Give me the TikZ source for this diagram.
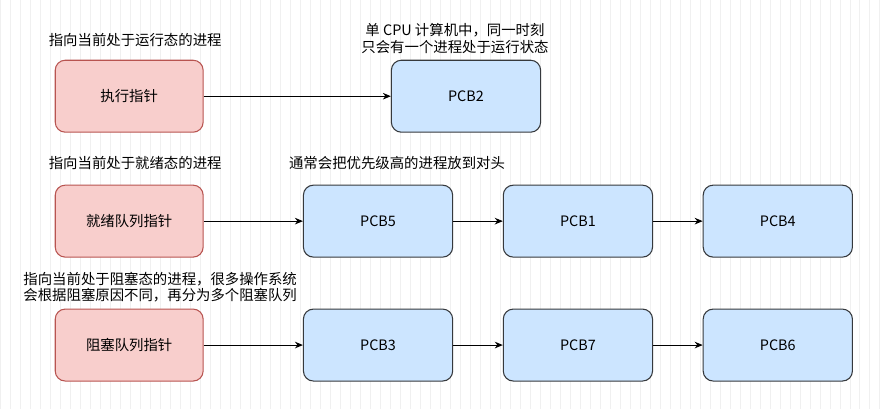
\documentclass[tikz,border=0pt]{standalone}
\usepackage{fontspec}
\setmainfont{Noto Sans CJK SC}
\usepackage{tikz}
\usetikzlibrary{arrows.meta}
\definecolor{redfill}{HTML}{F8CECC}
\definecolor{reddraw}{HTML}{B85450}
\definecolor{bluefill}{HTML}{CCE5FF}
\definecolor{bluedraw}{HTML}{36393D}

\begin{document}
\begin{tikzpicture}[x=0.75pt,y=-0.75pt,font=\fontsize{10.8}{12.5}\selectfont,
  ptr node/.style={draw=reddraw,fill=redfill,rounded corners=7.5pt,minimum width=111pt,minimum height=54pt,thick},
  pcb node/.style={draw=bluedraw,fill=bluefill,rounded corners=7.5pt,minimum width=112pt,minimum height=54pt,thick},
  link/.style={-{Stealth[length=6pt,width=5pt]},thick},
  note/.style={align=center,inner sep=0pt}]
\fill[white] (0,0) rectangle (884,409);
\draw[black!6,line width=0.4pt] (0,0) grid[step=10] (884,409);
\useasboundingbox (0,0) rectangle (884,409);

\node[ptr node] (run) at (129,96) {执行指针};
\node[pcb node] (pcb2) at (466,96) {PCB2};
\node[ptr node] (ready) at (129,221) {就绪队列指针};
\node[pcb node] (pcb5) at (378,221) {PCB5};
\node[pcb node] (pcb1) at (578,221) {PCB1};
\node[pcb node] (pcb4) at (778,221) {PCB4};
\node[ptr node] (block) at (129,345) {阻塞队列指针};
\node[pcb node] (pcb3) at (378,345) {PCB3};
\node[pcb node] (pcb7) at (578,345) {PCB7};
\node[pcb node] (pcb6) at (778,345) {PCB6};

\draw[link] (run) -- (pcb2);
\draw[link] (ready) -- (pcb5);
\draw[link] (pcb5) -- (pcb1);
\draw[link] (pcb1) -- (pcb4);
\draw[link] (block) -- (pcb3);
\draw[link] (pcb3) -- (pcb7);
\draw[link] (pcb7) -- (pcb6);

\node[note] (runtxt) at (135,40) {指向当前处于运行态的进程};
\node[note] (cputxt) at (455,38) {单 CPU 计算机中，同一时刻\\只会有一个进程处于运行状态};
\node[note] (readytxt) at (135,163) {指向当前处于就绪态的进程};
\node[note] (headtxt) at (397,163) {通常会把优先级高的进程放到对头};
\node[note] (blocktxt) at (160,287) {指向当前处于阻塞态的进程，很多操作系统\\会根据阻塞原因不同，再分为多个阻塞队列};
\end{tikzpicture}
\end{document}
